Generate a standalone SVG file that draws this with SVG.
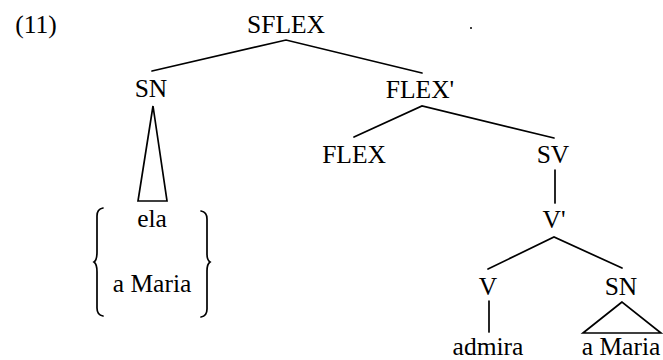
<svg xmlns="http://www.w3.org/2000/svg" width="663" height="360" viewBox="0 0 663 360">
<style>
text{font-family:"Liberation Serif","Times New Roman",serif;font-size:25.5px;fill:#000;text-anchor:middle}
.e{stroke:#000;stroke-width:1.7;fill:none;stroke-linecap:round;stroke-linejoin:miter}
</style>
<rect width="663" height="360" fill="#fff"/>
<text x="36" y="33">(11)</text>
<circle cx="471" cy="28" r="1" fill="#000"/>
<g id="connectors" class="e">
<polyline points="152,71 286,40 422,73"/>
<polyline points="354,137 422,106 554,138"/>
<line x1="555" y1="170" x2="555" y2="203"/>
<polyline points="488,269 554,237 622,268"/>
<line x1="489" y1="301" x2="489" y2="332"/>
<polygon points="153,106 138,201 167,201"/>
<polygon points="622,302 583,333 661,333"/>
<path d="M103,208 Q97,209 97,216 L97,252 Q97,260 94,262 Q97,264 97,272 L97,308 Q97,315 103,316"/>
<path d="M201,211 Q207,212 207,219 L207,254 Q207,260 210,262 Q207,264 207,271 L207,309 Q207,316 201,317"/>
</g>
<g id="n-sflex"><text x="286" y="33">SFLEX</text></g>
<g id="n-sn1"><text x="151" y="97">SN</text></g>
<g id="n-flexbar"><text x="420" y="98">FLEX'</text></g>
<g id="n-flex"><text x="354" y="163">FLEX</text></g>
<g id="n-sv"><text x="553" y="163">SV</text></g>
<g id="n-vbar"><text x="554" y="228">V'</text></g>
<g id="n-v"><text x="488" y="295">V</text></g>
<g id="n-sn2"><text x="621" y="295">SN</text></g>
<g id="n-ela"><text x="152" y="227">ela</text></g>
<g id="n-amaria1"><text x="152" y="292">a Maria</text></g>
<g id="n-admira"><text x="488" y="355">admira</text></g>
<g id="n-amaria2"><text x="621" y="355">a Maria</text></g>
</svg>
